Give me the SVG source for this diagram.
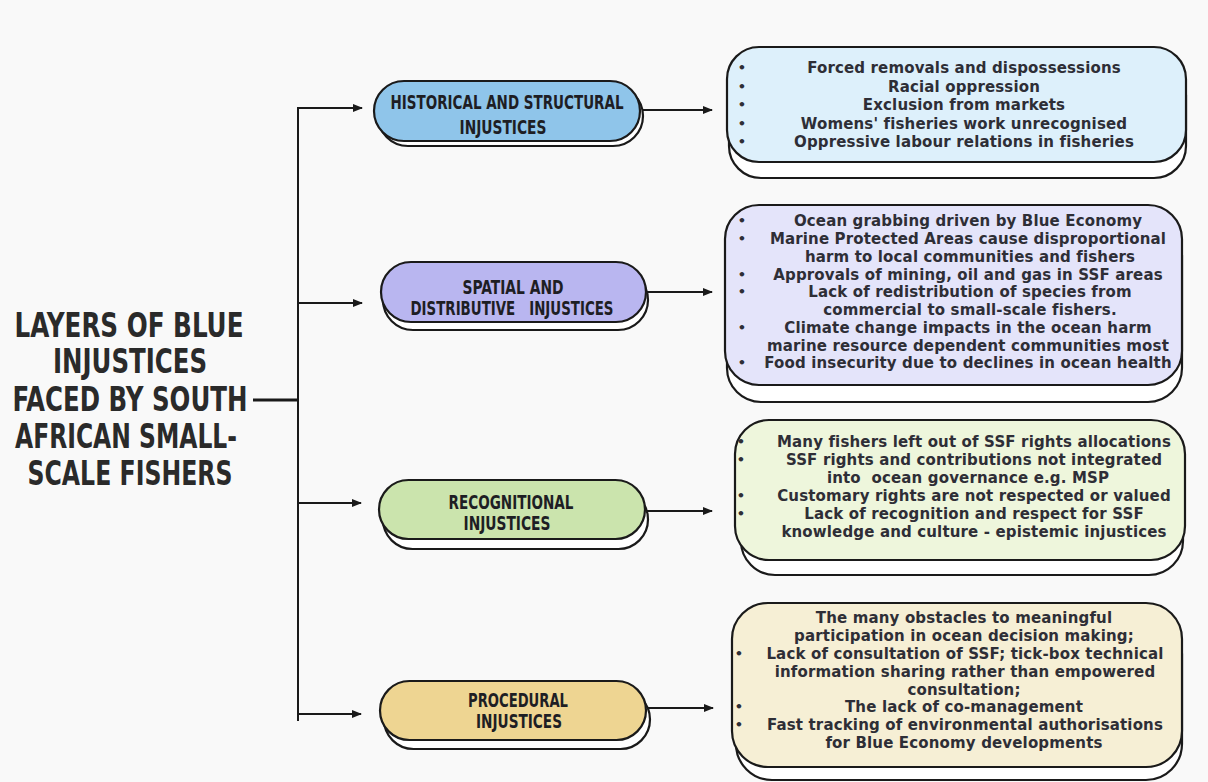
<svg xmlns="http://www.w3.org/2000/svg" width="1208" height="782" viewBox="0 0 1208 782">
<defs>
<marker id="ah" markerWidth="10" markerHeight="8" refX="9" refY="4" orient="auto" markerUnits="userSpaceOnUse">
<path d="M0,0 L10,4 L0,8 Z" fill="#1a1a1a"/>
</marker>
</defs>
<style>
.bg{fill:#f9f9f9}
.ln{stroke:#1a1a1a;stroke-width:2;fill:none}
.sh{fill:#ffffff;stroke:#1a1a1a;stroke-width:2.2}
.ol{stroke:#1a1a1a;stroke-width:2.2}
.title{font-family:"DejaVu Sans Condensed","DejaVu Sans",sans-serif;font-weight:bold;font-size:33px;fill:#2a2a2a;text-anchor:middle}
.pl{font-family:"DejaVu Sans Condensed","DejaVu Sans",sans-serif;font-weight:bold;font-size:19px;fill:#1e1e24;text-anchor:middle;white-space:pre}
.bt{font-family:"DejaVu Sans",sans-serif;font-weight:bold;font-size:15px;letter-spacing:0.15px;fill:#2e2e36;text-anchor:middle}
.bu{font-family:"DejaVu Sans",sans-serif;font-weight:bold;font-size:13px;fill:#2e2e36;text-anchor:middle}
</style>
<rect class="bg" x="0" y="0" width="1208" height="782"/>

<g id="title">
<text class="title" x="129" y="337" textLength="229" lengthAdjust="spacingAndGlyphs">LAYERS OF BLUE</text>
<text class="title" x="130" y="373" textLength="154" lengthAdjust="spacingAndGlyphs">INJUSTICES</text>
<text class="title" x="130" y="411" textLength="235" lengthAdjust="spacingAndGlyphs">FACED BY SOUTH</text>
<text class="title" x="126" y="448" textLength="222" lengthAdjust="spacingAndGlyphs">AFRICAN SMALL-</text>
<text class="title" x="130" y="485" textLength="205" lengthAdjust="spacingAndGlyphs">SCALE FISHERS</text>
</g>

<g id="connectors">
<line class="ln" x1="298" y1="107" x2="298" y2="721"/>
<line class="ln" x1="253" y1="400" x2="298" y2="400" style="stroke-width:3"/>
<line class="ln" x1="297" y1="108" x2="362" y2="108" marker-end="url(#ah)"/>
<line class="ln" x1="297" y1="303" x2="362" y2="303" marker-end="url(#ah)"/>
<line class="ln" x1="297" y1="503" x2="361" y2="503" marker-end="url(#ah)"/>
<line class="ln" x1="297" y1="714" x2="361" y2="714" marker-end="url(#ah)"/>
<line class="ln" x1="641" y1="110" x2="712" y2="110" marker-end="url(#ah)"/>
<line class="ln" x1="647" y1="292" x2="712" y2="292" marker-end="url(#ah)"/>
<line class="ln" x1="646" y1="511" x2="712" y2="511" marker-end="url(#ah)"/>
<line class="ln" x1="648" y1="708" x2="713" y2="708" marker-end="url(#ah)"/>
</g>

<g id="pill-historical">
<rect class="sh" x="378" y="86" width="265" height="60" rx="30"/>
<rect class="ol" x="374" y="81" width="266" height="60" rx="30" fill="#8fc5ea"/>
<text class="pl" x="507" y="109" textLength="233" lengthAdjust="spacingAndGlyphs">HISTORICAL AND STRUCTURAL</text>
<text class="pl" x="503" y="134" textLength="87" lengthAdjust="spacingAndGlyphs">INJUSTICES</text>
</g>

<g id="pill-spatial">
<rect class="sh" x="383" y="270" width="265" height="60" rx="30"/>
<rect class="ol" x="381" y="262" width="265" height="60" rx="30" fill="#b9b6f0"/>
<text class="pl" x="513" y="294" textLength="101" lengthAdjust="spacingAndGlyphs">SPATIAL AND</text>
<text class="pl" x="512" y="315" textLength="203" lengthAdjust="spacingAndGlyphs" xml:space="preserve">DISTRIBUTIVE   INJUSTICES</text>
</g>

<g id="pill-recognitional">
<rect class="sh" x="383" y="490" width="265" height="59" rx="29.5"/>
<rect class="ol" x="379" y="480" width="266" height="59" rx="29.5" fill="#cbe4ad"/>
<text class="pl" x="511" y="509" textLength="125" lengthAdjust="spacingAndGlyphs">RECOGNITIONAL</text>
<text class="pl" x="507" y="530" textLength="87" lengthAdjust="spacingAndGlyphs">INJUSTICES</text>
</g>

<g id="pill-procedural">
<rect class="sh" x="384" y="690" width="266" height="59" rx="29.5"/>
<rect class="ol" x="380" y="681" width="266" height="59" rx="29.5" fill="#eed592"/>
<text class="pl" x="518" y="707" textLength="100" lengthAdjust="spacingAndGlyphs">PROCEDURAL</text>
<text class="pl" x="519" y="728" textLength="86" lengthAdjust="spacingAndGlyphs">INJUSTICES</text>
</g>

<g id="box-historical">
<rect class="sh" x="729" y="63" width="457" height="115" rx="32"/>
<rect class="ol" x="727" y="47" width="459" height="115" rx="32" fill="#ddf0fb"/>
<text class="bu" x="742" y="72">•</text>
<text class="bu" x="742" y="91">•</text>
<text class="bu" x="742" y="109">•</text>
<text class="bu" x="742" y="128">•</text>
<text class="bu" x="742" y="146">•</text>
<text class="bt" x="964" y="73">Forced removals and dispossessions</text>
<text class="bt" x="964" y="92">Racial oppression</text>
<text class="bt" x="964" y="110">Exclusion from markets</text>
<text class="bt" x="964" y="129">Womens' fisheries work unrecognised</text>
<text class="bt" x="964" y="147">Oppressive labour relations in fisheries</text>
</g>

<g id="box-spatial">
<rect class="sh" x="727" y="222" width="455" height="180" rx="34"/>
<rect class="ol" x="725" y="205" width="457" height="180" rx="34" fill="#e4e4fa"/>
<text class="bu" x="742" y="225">•</text>
<text class="bu" x="742" y="243">•</text>
<text class="bu" x="742" y="279">•</text>
<text class="bu" x="742" y="296">•</text>
<text class="bu" x="742" y="332">•</text>
<text class="bu" x="742" y="367">•</text>
<text class="bt" x="968" y="226">Ocean grabbing driven by Blue Economy</text>
<text class="bt" x="968" y="244">Marine Protected Areas cause disproportional</text>
<text class="bt" x="970" y="262">harm to local communities and fishers</text>
<text class="bt" x="968" y="280">Approvals of mining, oil and gas in SSF areas</text>
<text class="bt" x="970" y="297">Lack of redistribution of species from</text>
<text class="bt" x="970" y="315">commercial to small-scale fishers.</text>
<text class="bt" x="968" y="333">Climate change impacts in the ocean harm</text>
<text class="bt" x="968" y="351">marine resource dependent communities most</text>
<text class="bt" x="968" y="368">Food insecurity due to declines in ocean health</text>
</g>

<g id="box-recognitional">
<rect class="sh" x="741" y="435" width="442" height="140" rx="34"/>
<rect class="ol" x="735" y="420" width="450" height="140" rx="34" fill="#eef6dc"/>
<text class="bu" x="741" y="446">•</text>
<text class="bu" x="741" y="464">•</text>
<text class="bu" x="741" y="500">•</text>
<text class="bu" x="741" y="518">•</text>
<text class="bt" x="974" y="447">Many fishers left out of SSF rights allocations</text>
<text class="bt" x="974" y="465">SSF rights and contributions not integrated</text>
<text class="bt" x="968" y="483" xml:space="preserve">into  ocean governance e.g. MSP</text>
<text class="bt" x="974" y="501">Customary rights are not respected or valued</text>
<text class="bt" x="974" y="519">Lack of recognition and respect for SSF</text>
<text class="bt" x="974" y="537">knowledge and culture - epistemic injustices</text>
</g>

<g id="box-procedural">
<rect class="sh" x="736" y="618" width="446" height="162" rx="36"/>
<rect class="ol" x="732" y="603" width="450" height="164" rx="36" fill="#f6efd5"/>
<text class="bu" x="739" y="658">•</text>
<text class="bu" x="739" y="711">•</text>
<text class="bu" x="739" y="729">•</text>
<text class="bt" x="964" y="623">The many obstacles to meaningful</text>
<text class="bt" x="964" y="641">participation in ocean decision making;</text>
<text class="bt" x="965" y="659">Lack of consultation of SSF; tick-box technical</text>
<text class="bt" x="965" y="677">information sharing rather than empowered</text>
<text class="bt" x="964" y="695">consultation;</text>
<text class="bt" x="964" y="712">The lack of co-management</text>
<text class="bt" x="965" y="730">Fast tracking of environmental authorisations</text>
<text class="bt" x="964" y="748">for Blue Economy developments</text>
</g>
</svg>
